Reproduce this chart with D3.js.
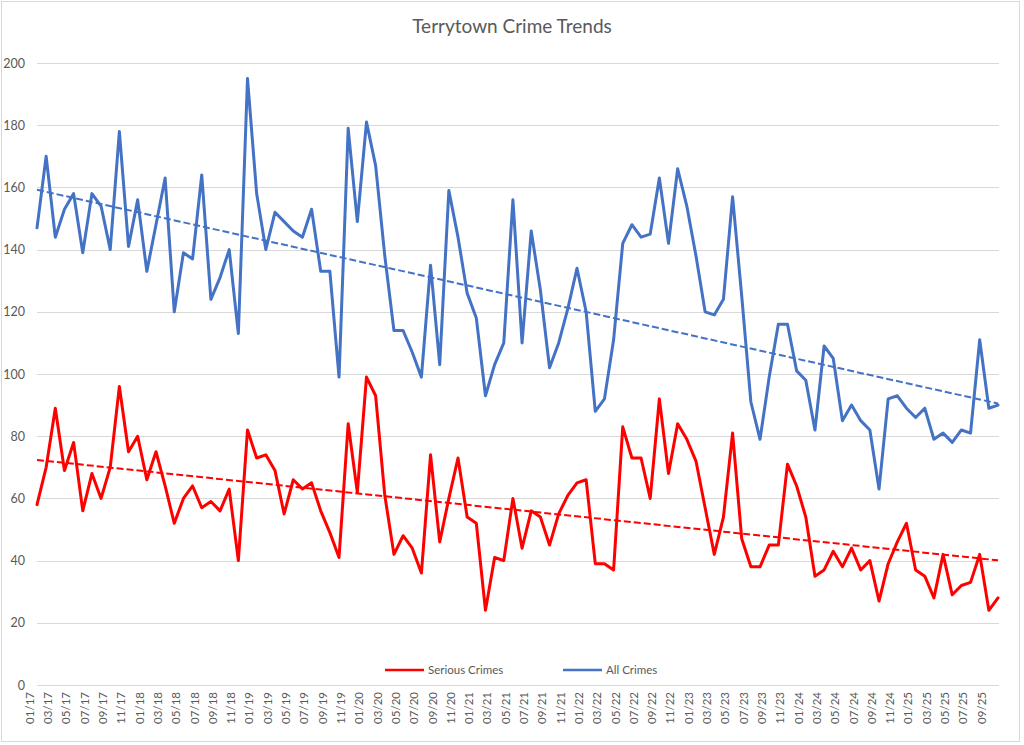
<!DOCTYPE html>
<html><head><meta charset="utf-8">
<script src="https://cdn.jsdelivr.net/npm/d3@7"></script>
<style>html,body{margin:0;padding:0;background:#fff;}svg{display:block;}</style>
</head><body>
<script>
const months = (() => { const a=[]; for(let y=17;y<=25;y++) for(let m=1;m<=12;m++){ if(y===25&&m>10) break; a.push(String(m).padStart(2,"0")+"/"+y);} return a; })();
const allCrimes = [147,170,144,153,158,139,158,154,140,178,141,156,133,148,163,120,139,137,164,124,
131,140,113,195,158,140,152,149,146,144,153,133,133,99,179,149,181,167,138,114,
114,107,99,135,103,159,144,126,118,93,103,110,156,110,146,127,102,110,121,134,
120,88,92,111,142,148,144,145,163,142,166,154,138,120,119,124,157,125,91,79,
99,116,116,101,98,82,109,105,85,90,85,82,63,92,93,89,86,89,79,81,
78,82,81,111,89,90];
const seriousCrimes = [58,70,89,69,78,56,68,60,70,96,75,80,66,75,64,52,60,64,57,59,
56,63,40,82,73,74,69,55,66,63,65,56,49,41,84,62,99,93,61,42,
48,44,36,74,46,60,73,54,52,24,41,40,60,44,56,54,45,55,61,65,
66,39,39,37,83,73,73,60,92,68,84,79,72,57,42,54,81,47,38,38,
45,45,71,64,54,35,37,43,38,44,37,40,27,39,46,52,37,35,28,42,
29,32,33,42,24,28];
const yTicks = [0,20,40,60,80,100,120,140,160,180,200];
const tickLabels = months.filter((d,i)=>i%2===0);
const seriesNames = ["Serious Crimes","All Crimes"];
const seriesColors = ["#FF0000","#4472C4"];

const W=1024,H=745;
const svg=d3.select("body").append("svg").attr("width",W).attr("height",H);
svg.append("rect").attr("x",1.5).attr("y",1.5).attr("width",1018).attr("height",740)
  .attr("fill","#fff").attr("stroke","#D9D9D9").attr("stroke-width",1);

const font="Lato, 'Open Sans', sans-serif";
const x=d3.scalePoint().domain(months).range([37,998]);
const y=d3.scaleLinear().domain([0,200]).range([685,63]);

svg.append("text").attr("x",512).attr("y",33).attr("text-anchor","middle")
  .attr("font-family",font).attr("font-size",19).attr("fill","#595959").text("Terrytown Crime Trends");

// gridlines
const yAxis=d3.axisLeft(y).tickValues(yTicks).tickSize(-(999-37)).tickPadding(12);
const gy=svg.append("g").attr("transform","translate(37,0)").call(yAxis);
gy.select(".domain").remove();
gy.selectAll(".tick line").attr("stroke","#D9D9D9").attr("stroke-width",1).attr("shape-rendering","crispEdges");
gy.selectAll(".tick text").attr("font-family",font).attr("font-size",12.5).attr("fill","#595959");

// x axis
const xAxis=d3.axisBottom(x).tickValues(tickLabels).tickSize(0).tickPadding(6);
const gx=svg.append("g").attr("transform","translate(0,685)").call(xAxis);
gx.select(".domain").remove();
gx.selectAll(".tick text").attr("font-family",font).attr("font-size",11.5).attr("fill","#595959")
  .attr("transform","rotate(-90)").attr("text-anchor","end").attr("dx","-7").attr("dy","-0.32em")
  .attr("x",0).attr("y",0);

// legend
const legend=[{n:seriesNames[0],c:seriesColors[0],x:385},{n:seriesNames[1],c:seriesColors[1],x:563}];
legend.forEach(l=>{
  svg.append("line").attr("x1",l.x).attr("x2",l.x+39).attr("y1",670).attr("y2",670)
    .attr("stroke",l.c).attr("stroke-width",2.5);
  svg.append("text").attr("x",l.x+43).attr("y",674).attr("font-family",font).attr("font-size",11.5)
    .attr("fill","#595959").text(l.n);
});

const line=d3.line().x((d,i)=>x(months[i])).y(d=>y(d)).curve(d3.curveLinear);
function trend(vals){
  const n=vals.length; let sx=0,sy=0,sxx=0,sxy=0;
  vals.forEach((v,i)=>{sx+=i;sy+=v;sxx+=i*i;sxy+=i*v;});
  const b=(n*sxy-sx*sy)/(n*sxx-sx*sx), a=(sy-b*sx)/n;
  return [a, a+b*(n-1)];
}
[[seriousCrimes,seriesColors[0]],[allCrimes,seriesColors[1]]].forEach(([vals,c])=>{
  svg.append("path").datum(vals).attr("d",line).attr("fill","none").attr("stroke",c)
    .attr("stroke-width",3).attr("stroke-linejoin","round").attr("stroke-linecap","round");
});
[[seriousCrimes,seriesColors[0]],[allCrimes,seriesColors[1]]].forEach(([vals,c])=>{
  const t=trend(vals);
  svg.append("line").attr("x1",x(months[0])).attr("x2",x(months[months.length-1]))
    .attr("y1",y(t[0])).attr("y2",y(t[1])).attr("stroke",c).attr("stroke-width",2)
    .attr("stroke-dasharray","7,3");
});
</script>
</body></html>
